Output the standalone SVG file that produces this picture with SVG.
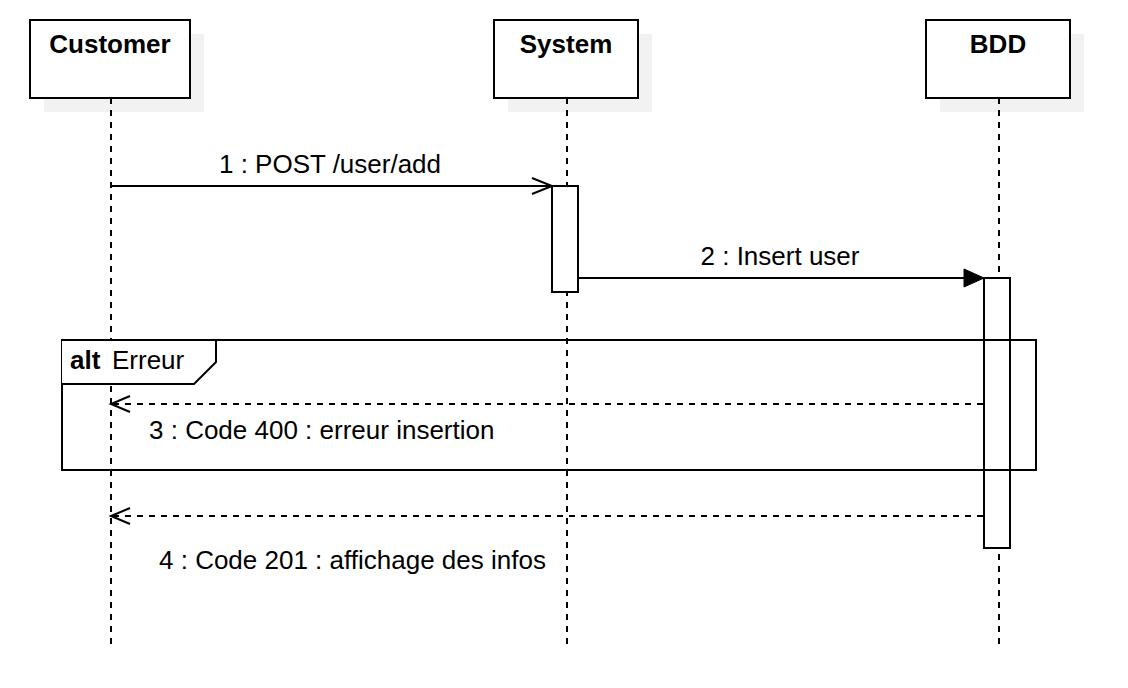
<svg xmlns="http://www.w3.org/2000/svg" width="1128" height="688" viewBox="0 0 1128 688">
<style>
.shadow{fill:#f2f2f2;stroke:none}
.box{fill:#fff;stroke:#000;stroke-width:2}
.life{stroke:#000;stroke-width:2;stroke-dasharray:6 6;fill:none}
.msg{stroke:#000;stroke-width:2;fill:none}
.ret{stroke:#000;stroke-width:2;stroke-dasharray:6 6;fill:none}
.open{stroke:#000;stroke-width:2;fill:none}
.t{font-family:"Liberation Sans",Arial,sans-serif;font-size:26px;fill:#000}
.b{font-weight:bold}
</style>
<rect width="1128" height="688" fill="#fff"/>
<g id="customer">
<rect class="shadow" x="44" y="34" width="160" height="78"/>
<rect class="box" x="30" y="20" width="160" height="78"/>
<text class="t b" x="110" y="53" text-anchor="middle">Customer</text>
<line class="life" x1="111" y1="98" x2="111" y2="644"/>
</g>
<g id="system">
<rect class="shadow" x="508" y="34" width="144" height="78"/>
<rect class="box" x="494" y="20" width="144" height="78"/>
<text class="t b" x="566" y="53" text-anchor="middle">System</text>
<line class="life" x1="567" y1="98" x2="567" y2="644"/>
</g>
<g id="bdd">
<rect class="shadow" x="940" y="34" width="144" height="78"/>
<rect class="box" x="926" y="20" width="144" height="78"/>
<text class="t b" x="998" y="53" text-anchor="middle">BDD</text>
<line class="life" x1="999" y1="98" x2="999" y2="644"/>
</g>
<g id="activation-system">
<rect class="box" x="552" y="186" width="26" height="106"/>
</g>
<g id="activation-bdd">
<rect class="box" x="984" y="278" width="26" height="270"/>
</g>
<g id="alt">
<rect x="62" y="340" width="974" height="130" fill="none" stroke="#000" stroke-width="2"/>
<path d="M62 340 H216 V362 L194 384 H62" fill="#fff" stroke="#000" stroke-width="2"/>
<text class="t b" x="70" y="369">alt</text>
<text class="t" x="112" y="369">Erreur</text>
</g>
<g id="connectors">
<line class="msg" x1="111" y1="186" x2="551" y2="186"/>
<path class="open" d="M532 178 L552 186 L532 194"/>
<text class="t" x="330" y="173" text-anchor="middle">1 : POST /user/add</text>
<line class="msg" x1="578" y1="278" x2="966" y2="278"/>
<path d="M964 269 L984 278 L964 287 Z" fill="#000" stroke="#000" stroke-width="1"/>
<text class="t" x="780" y="265" text-anchor="middle">2 : Insert user</text>
<line class="ret" x1="983" y1="404" x2="113" y2="404"/>
<path class="open" d="M130 396 L111 404 L130 412"/>
<text class="t" x="149" y="439">3 : Code 400 : erreur insertion</text>
<line class="ret" x1="983" y1="516" x2="113" y2="516"/>
<path class="open" d="M130 508 L111 516 L130 524"/>
<text class="t" x="159" y="569">4 : Code 201 : affichage des infos</text>
</g>
</svg>
